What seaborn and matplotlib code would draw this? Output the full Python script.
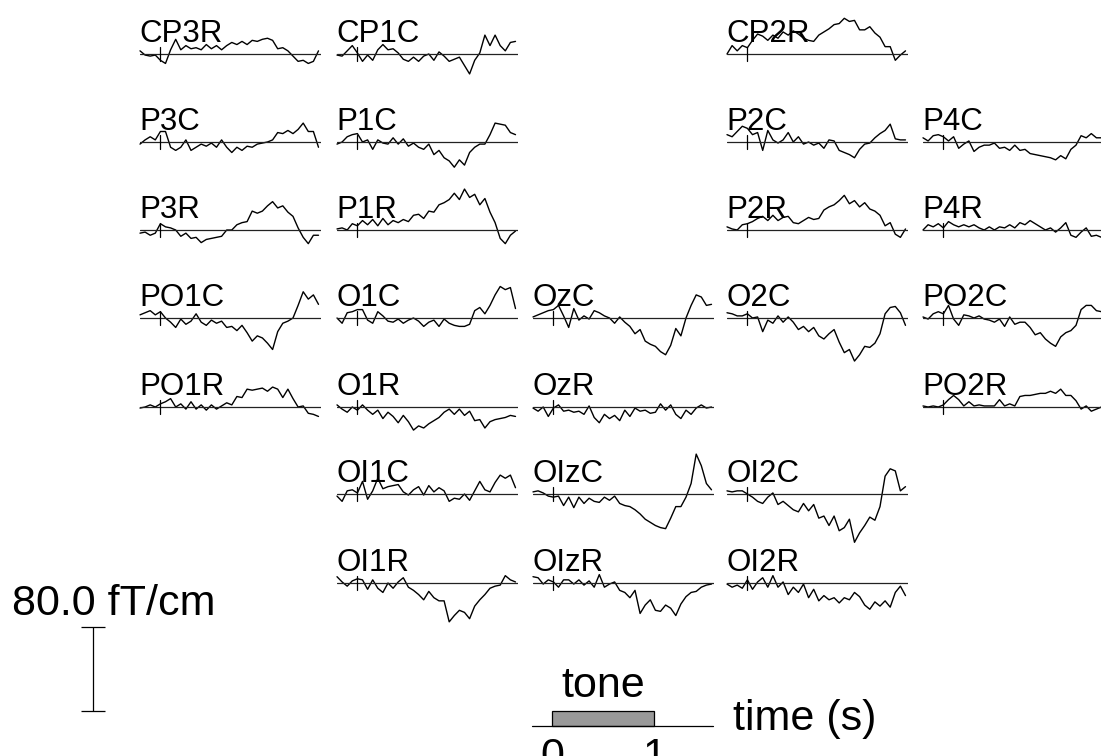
import numpy as np
import pandas as pd
import matplotlib
matplotlib.use("Agg")
import matplotlib.pyplot as plt
import seaborn as sns

# ---------------------------------------------------------------------------
# Grand-average gradiometer responses (fT/cm), sampled every 50 ms
# ---------------------------------------------------------------------------
TIME = np.linspace(-0.2, 1.55, 36)  # seconds relative to tone onset

CP3R = [3, -1, -2, -1, -6, -9, 4, 14, 4, 8, 5, 6, 4, 9, 5, 8, 4, 8,
        11, 9, 12, 9, 13, 12, 14, 15, 13, 5, 6, 3, -2, -7, -6, -9, -7, 3]
CP1C = [-1, -2, 3, 8, 1, -7, -1, -6, 4, 9, 4, 5, 1, -5, -7, -3, -7, -2,
        0, -6, 2, -2, -7, -5, -3, -11, -19, -6, 1, 18, 8, 18, 8, 3, 11, 12]
CP2R = [0, 8, 3, 8, 6, 13, 19, 17, 13, 18, 15, 21, 18, 22, 19, 15, 13, 12,
        18, 21, 24, 28, 29, 34, 31, 32, 23, 23, 26, 20, 16, 7, 7, -6, -1, 3]
P3C = [-2, 2, 5, 2, 10, 10, -5, -8, -5, 2, -8, -5, -2, -4, -1, -5, 2, -5,
       -10, -5, -8, -4, -5, -2, -1, 0, 2, 9, 8, 11, 8, 12, 18, 10, 10, -5]
P1C = [-2, 0, 5, 7, 8, 0, 2, -7, 2, -1, -2, 4, -2, 3, -4, -1, -5, -7,
       -2, -12, -8, -15, -18, -24, -17, -22, -10, -5, -2, -2, 7, 18, 17, 16, 9, 7]
P2C = [7, 5, 10, 15, 13, 7, 9, -8, 11, 2, -1, 2, 9, 0, 5, -2, 0, -3,
       -1, -6, 2, 1, -8, -10, -12, -15, -7, -2, -1, 4, 8, 11, 17, 3, 2, 2]
P4C = [4, 1, 6, 7, 5, 1, 5, -6, -2, 1, -9, -5, -3, -3, -1, -6, -5, -8,
       -3, -8, -7, -11, -12, -13, -14, -15, -17, -13, -16, -7, -3, 6, 4, 8, 4, 4]
P3R = [-3, -2, -5, -3, 6, 3, 2, 0, -6, -3, -8, -7, -12, -9, -8, -7, -6, 0,
       0, 5, 7, 8, 18, 16, 18, 23, 27, 21, 23, 17, 13, 2, -7, -13, -5, -5]
P1R = [1, 2, 0, 6, 4, 9, 5, 10, 4, 11, 5, 9, 7, 10, 8, 14, 15, 11,
       18, 17, 24, 26, 29, 35, 29, 39, 31, 34, 24, 30, 17, 7, -8, -13, -5, -1]
P2R = [3, 1, 0, 5, 6, 8, 11, 13, 9, 14, 9, 12, 13, 7, 6, 9, 12, 10,
       11, 19, 22, 24, 28, 33, 25, 28, 22, 26, 20, 18, 14, 4, 7, -4, -7, 1]
P4R = [0, 5, 3, 6, 2, 8, 5, 3, 5, 3, 5, 2, 0, 3, 0, 3, 2, 5,
       2, 7, 5, 9, 6, 3, 0, 2, -2, 2, 7, -5, -7, -2, 2, -6, -5, -7]
PO1C = [3, 5, 7, 3, 6, 0, -4, -9, -1, -6, -3, 4, -4, -7, -2, -5, -3, -9,
        -8, -12, -7, -14, -22, -17, -19, -24, -30, -13, -5, -3, 0, 12, 25, 18, 22, 13]
O1C = [0, -5, 5, 6, 8, 8, -2, -5, 6, 2, -3, -4, -1, -5, -2, 0, -3, -8,
       -4, -2, -8, -1, -5, -7, -8, -8, -6, 7, 10, 4, 12, 22, 30, 27, 29, 9]
OzC = [1, 3, 5, 7, 8, 12, 2, -9, 9, -2, 2, -1, 7, 5, 2, 0, -5, 1,
       -4, -8, -15, -11, -22, -25, -27, -32, -35, -26, -10, -17, 0, 12, 22, 20, 12, 13]
O2C = [5, 4, 2, 2, 4, 0, 1, -13, -2, -5, 2, -4, 1, -4, -11, -8, -13, -9,
       -17, -20, -15, -11, -23, -33, -30, -41, -35, -27, -28, -24, -15, 4, 10, 11, 5, -7]
PO2C = [1, -1, 4, 6, 4, 12, -1, -7, 3, 2, 0, 2, -1, -2, -4, -1, -8, 1,
        -6, -4, -4, -9, -16, -14, -20, -24, -27, -18, -14, -12, -7, 8, 12, 12, 7, 6]
PO1R = [-1, 0, 2, 0, 3, 5, 8, 0, 3, -2, 5, -2, 2, -3, 2, -2, 1, 4,
        2, 10, 9, 17, 16, 17, 18, 15, 19, 17, 9, 17, 8, 0, 1, -6, -7, -9]
O1R = [2, -2, -5, 0, -3, 2, -3, -7, -3, -11, -5, -9, -15, -8, -14, -22, -18, -20,
       -16, -13, -10, -5, -2, -7, -2, -8, -4, -13, -12, -20, -14, -12, -11, -10, -8, -9]
OzR = [-1, -4, 0, -9, -1, 2, -4, -3, -5, -4, -7, 1, -10, -15, -7, -11, -8, -13,
       -3, -9, -1, -4, -3, -6, -5, 3, -3, 2, -7, -11, -3, -7, -1, 2, -1, 0]
PO2R = [1, 0, 1, 0, 2, 7, 11, 7, 1, 5, 1, 2, 1, 1, 1, 7, 1, 3,
        1, 10, 11, 11, 12, 13, 13, 15, 13, 17, 11, 11, 6, -2, 1, -4, -2, 0]
OI1C = [-2, -7, 3, 4, 1, 12, -5, 3, 15, 5, 7, 8, 9, 2, -1, 4, 7, -1,
        8, 2, 6, 3, -7, -4, -5, 0, -6, 3, 12, 4, 2, 11, 18, 15, 18, 6]
OIzC = [2, 3, 1, -2, -3, -2, -11, -3, -13, -3, -9, -4, -7, -8, -3, -6, -2, -9,
        -11, -12, -15, -19, -24, -27, -30, -32, -33, -23, -12, -12, -3, 10, 38, 27, 10, 4]
OI2C = [3, 2, 3, 3, 0, -3, -7, -9, -3, 1, -10, -7, -11, -15, -17, -9, -16, -10,
        -23, -21, -30, -21, -35, -32, -24, -46, -37, -30, -22, -25, -12, 17, 24, 22, 3, 7]
OI1R = [6, 1, -3, 2, 4, 3, -6, 3, -5, -9, 0, -5, 1, 5, -4, -7, -11, -16,
        -8, -14, -17, -17, -37, -31, -26, -28, -34, -22, -16, -11, -5, -3, -2, 7, 3, 1]
OIzR = [6, 5, -1, 3, 1, -4, 3, 3, -1, 3, -2, 2, -4, 8, -4, -1, 1, -7,
        -9, -14, -7, -29, -21, -16, -26, -27, -21, -24, -31, -20, -13, -9, -8, -4, -2, -1]
OI2R = [-1, -4, -2, -5, 3, -6, 1, 5, -4, 7, -4, 1, -11, -4, -9, -1, -14, -6,
        -17, -12, -16, -14, -19, -14, -16, -9, -13, -21, -25, -18, -22, -17, -23, -9, -3, -12]

TRACES = {
    "CP3R": CP3R, "CP1C": CP1C, "CP2R": CP2R,
    "P3C": P3C, "P1C": P1C, "P2C": P2C, "P4C": P4C,
    "P3R": P3R, "P1R": P1R, "P2R": P2R, "P4R": P4R,
    "PO1C": PO1C, "O1C": O1C, "OzC": OzC, "O2C": O2C, "PO2C": PO2C,
    "PO1R": PO1R, "O1R": O1R, "OzR": OzR, "PO2R": PO2R,
    "OI1C": OI1C, "OIzC": OIzC, "OI2C": OI2C,
    "OI1R": OI1R, "OIzR": OIzR, "OI2R": OI2R,
}

# Sensor positions on the topographic grid: (row, column)
GRID = {
    "CP3R": (0, 0), "CP1C": (0, 1), "CP2R": (0, 3),
    "P3C": (1, 0), "P1C": (1, 1), "P2C": (1, 3), "P4C": (1, 4),
    "P3R": (2, 0), "P1R": (2, 1), "P2R": (2, 3), "P4R": (2, 4),
    "PO1C": (3, 0), "O1C": (3, 1), "OzC": (3, 2), "O2C": (3, 3), "PO2C": (3, 4),
    "PO1R": (4, 0), "O1R": (4, 1), "OzR": (4, 2), "PO2R": (4, 4),
    "OI1C": (5, 1), "OIzC": (5, 2), "OI2C": (5, 3),
    "OI1R": (6, 1), "OIzR": (6, 2), "OI2R": (6, 3),
}

SCALE_VALUE = 80.0            # fT/cm, calibration bar
TONE_ON, TONE_OFF = 0.0, 1.0  # stimulus interval (s)

# ---------------------------------------------------------------------------
# Figure
# ---------------------------------------------------------------------------
sns.set_theme(style="white")
plt.rcParams["font.family"] = ["Liberation Sans", "DejaVu Sans"]
plt.rcParams["text.color"] = "black"

W, H = 1101, 756
fig = plt.figure(figsize=(W / 100, H / 100), dpi=100)

COL_X = [140, 337, 533, 727, 923]
ROW_Y = [54, 142, 230, 318, 407, 494, 583]
PANEL_W = 181                      # px
PX_PER_S = 102.0                   # horizontal scale
PX_PER_UNIT = 84.0 / SCALE_VALUE   # vertical scale (px per fT/cm)
HALF_H = 42                        # px above/below the baseline
T0 = TIME[0]
T1 = T0 + PANEL_W / PX_PER_S
LW = 1.0


def px_axes(x0, y_top, w, h):
    """Add an axes given pixel coordinates measured from the top-left corner."""
    return fig.add_axes([x0 / W, 1 - (y_top + h) / H, w / W, h / H])


for name, (r, c) in GRID.items():
    x0, yb = COL_X[c], ROW_Y[r]
    ax = px_axes(x0, yb - HALF_H, PANEL_W, 2 * HALF_H)
    df = pd.DataFrame({"time": TIME, "field": TRACES[name]})
    sns.lineplot(data=df, x="time", y="field", ax=ax, color="black",
                 lw=LW, clip_on=False)
    ax.axhline(0, color="#222222", lw=0.9)
    ax.plot([0, 0], [-6.5, 6.5], color="black", lw=0.9, clip_on=False)
    ax.set_xlim(T0, T1)
    ax.set_ylim(-HALF_H / PX_PER_UNIT, HALF_H / PX_PER_UNIT)
    ax.axis("off")
    fig.text((x0 - 1) / W, 1 - (yb - 12) / H, name, fontsize=22.5,
             ha="left", va="baseline", color="black")

# Calibration bar
bar_top, bar_len = 627, SCALE_VALUE * PX_PER_UNIT
sax = px_axes(83, bar_top, 20, bar_len)
sax.errorbar([0], [SCALE_VALUE / 2], yerr=[SCALE_VALUE / 2], color="black",
             lw=0.9, capsize=8.6, capthick=0.9, clip_on=False)
sax.set_xlim(-1, 1)
sax.set_ylim(0, SCALE_VALUE)
sax.axis("off")
fig.text(12 / W, 1 - 615 / H, f"{SCALE_VALUE:.1f} fT/cm", fontsize=31,
         ha="left", va="baseline", color="black")

# Time axis with the stimulus bar
tax = px_axes(532, 711, PANEL_W, 15)
tax.bar([(TONE_ON + TONE_OFF) / 2], [1.0], width=TONE_OFF - TONE_ON,
        color="#999999", edgecolor="black", lw=0.9, clip_on=False, zorder=2)
tax.axhline(0, color="black", lw=0.9, clip_on=False, zorder=3)
tax.set_xlim(T0, T1)
tax.set_ylim(0, 1)
tax.axis("off")
tax.text((TONE_ON + TONE_OFF) / 2, 29 / 15, "tone", fontsize=31,
         ha="center", va="baseline", color="black")
for tk in (TONE_ON, TONE_OFF):
    tax.text(tk, -11 / 15, f"{tk:g}", fontsize=31, ha="center", va="top",
             color="black")
fig.text(733 / W, 1 - 730 / H, "time (s)", fontsize=31, ha="left",
         va="baseline", color="black")

fig.savefig("out.png", dpi=100)
